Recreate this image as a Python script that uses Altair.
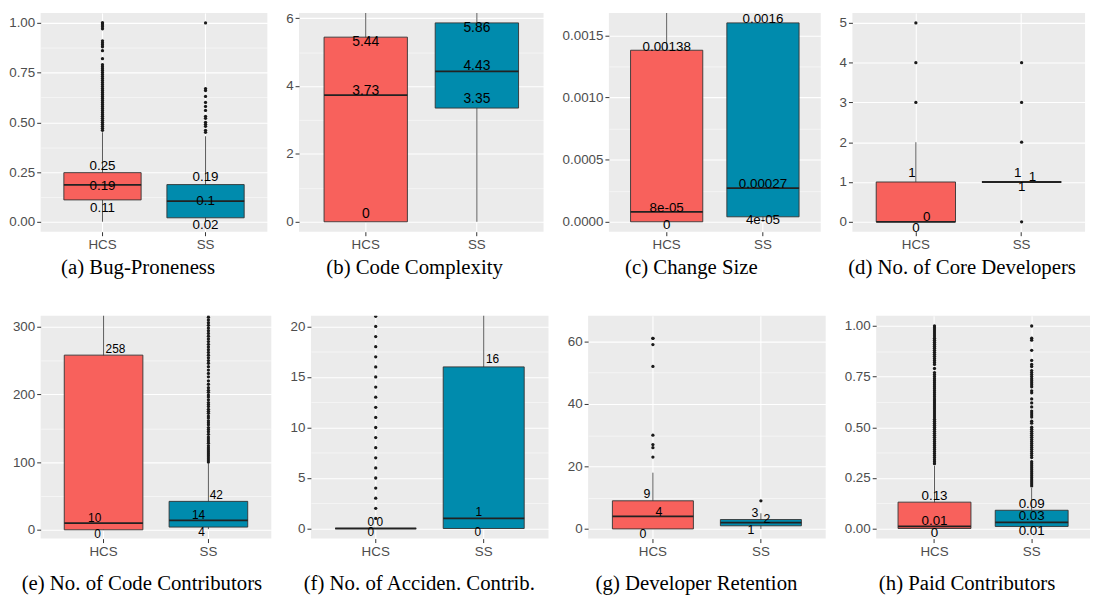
import json
import altair as alt
import pandas as pd

GROUPS = ["HCS", "SS"]
FILL = ["#F8615C", "#008BAD"]

CAPTIONS = [
    "(a) Bug-Proneness", "(b) Code Complexity", "(c) Change Size", "(d) No. of Core Developers",
    "(e) No. of Code Contributors", "(f) No. of Acciden. Contrib.", "(g) Developer Retention",
    "(h) Paid Contributors",
]

# box-plot summaries per panel, as (HCS, SS)
WHISKER_LOW = [(0, 0), (0, 0), (0, 0), (0, 1), (0, 1), (0, 0), (0, 0), (0, 0)]
Q1 = [(0.11, 0.02), (0, 3.35), (0, 0.00004), (0, 1), (0, 4), (0, 0), (0, 1), (0, 0.01)]
MEDIAN = [(0.185, 0.104), (3.73, 4.43), (0.00008, 0.00027), (0, 1), (10, 14), (0, 1), (4, 2), (0.01, 0.03)]
Q3 = [(0.247, 0.187), (5.44, 5.86), (0.00138, 0.0016), (1, 1), (258, 42), (0, 16), (9, 3), (0.13, 0.09)]
WHISKER_HIGH = [(0.45, 0.43), (13.6, 9.6), (0.0034, 0.0016), (2, 1), (640, 98), (0, 40), (18, 5), (0.31, 0.2)]

# value labels per panel: HCS q3, median, q1, SS q3, median, q1
LABELS = [
    ("0.25", "0.19", "0.11", "0.19", "0.1", "0.02"),
    ("5.44", "3.73", "0", "5.86", "4.43", "3.35"),
    ("0.00138", "8e-05", "0", "0.0016", "0.00027", "4e-05"),
    ("1", "0", "0", "1", "1", "1"),
    ("258", "10", "0", "42", "14", "4"),
    ("0", "0", "0", "16", "1", "0"),
    ("9", "4", "0", "3", "2", "1"),
    ("0.13", "0.01", "0", "0.09", "0.03", "0.01"),
]

OUT_HCS = [
    [1.0, 1.0, 0.99, 0.98, 0.97, 0.91, 0.9, 0.89, 0.88, 0.86, 0.82, 0.79, 0.78, 0.77, 0.76, 0.75,
     0.74, 0.73, 0.72, 0.71, 0.7, 0.69, 0.68, 0.67, 0.66, 0.65, 0.64, 0.63, 0.62, 0.61, 0.6, 0.59,
     0.58, 0.57, 0.56, 0.55, 0.54, 0.53, 0.52, 0.51, 0.5, 0.49, 0.48, 0.47, 0.46],
    [],
    [],
    [3, 4, 5],
    [],
    [1, 2, 3, 4, 5, 6, 7, 8, 9, 10, 11, 12, 13, 14, 15, 16, 17, 18, 19, 20, 21],
    [23, 26, 27, 30, 52, 59, 61, 61],
    [0.32, 0.33, 0.34, 0.35, 0.36, 0.37, 0.38, 0.39, 0.4, 0.41, 0.42, 0.43, 0.44, 0.45, 0.46, 0.47,
     0.48, 0.49, 0.5, 0.51, 0.52, 0.53, 0.54, 0.55, 0.56, 0.57, 0.58, 0.59, 0.6, 0.61, 0.62, 0.63,
     0.64, 0.65, 0.66, 0.67, 0.68, 0.69, 0.7, 0.71, 0.72, 0.73, 0.74, 0.75, 0.76, 0.77, 0.79, 0.81,
     0.82, 0.83, 0.84, 0.85, 0.86, 0.87, 0.88, 0.89, 0.9, 0.91, 0.92, 0.93, 0.94, 0.95, 0.96, 0.97,
     0.98, 0.99, 1.0],
]
OUT_SS = [
    [1.0, 0.67, 0.66, 0.63, 0.6, 0.58, 0.56, 0.53, 0.52, 0.5, 0.49, 0.48, 0.46, 0.45],
    [],
    [],
    [0, 2, 3, 4],
    [100, 103, 106, 109, 112, 115, 118, 121, 124, 128, 131, 134, 137, 141, 145, 148, 151, 155, 158,
     161, 165, 168, 172, 175, 178, 182, 185, 188, 192, 196, 199, 203, 206, 210, 215, 220, 226, 231,
     236, 241, 246, 250, 254, 258, 262, 266, 270, 274, 278, 282, 286, 290, 294, 298, 302, 306, 310,
     314, 318],
    [],
    [9],
    [1.0, 0.94, 0.93, 0.88, 0.83, 0.81, 0.8, 0.78, 0.77, 0.76, 0.75, 0.74, 0.73, 0.72, 0.71, 0.7,
     0.68, 0.67, 0.64, 0.62, 0.6, 0.58, 0.57, 0.56, 0.55, 0.53, 0.52, 0.5, 0.49, 0.48, 0.47, 0.46,
     0.45, 0.44, 0.43, 0.42, 0.41, 0.4, 0.39, 0.38, 0.37, 0.36, 0.35, 0.33, 0.32, 0.31, 0.3, 0.29,
     0.28, 0.27, 0.26, 0.25, 0.24, 0.23, 0.22, 0.21],
]

# y axes
Y_DOMAIN = [[-0.05, 1.05], [-0.293, 6.153], [-0.00008, 0.00168], [-0.25, 5.25],
            [-13, 316], [-1, 21.05], [-3.1, 68.2], [-0.05, 1.05]]
Y_MAJOR = [[0, 0.25, 0.5, 0.75, 1.0], [0, 2, 4, 6], [0, 0.0005, 0.001, 0.0015], [0, 1, 2, 3, 4, 5],
           [0, 100, 200, 300], [0, 5, 10, 15, 20], [0, 20, 40, 60], [0, 0.25, 0.5, 0.75, 1.0]]
Y_MINOR = [[0.125, 0.375, 0.625, 0.875], [1, 3, 5], [0.00025, 0.00075, 0.00125],
           [0.5, 1.5, 2.5, 3.5, 4.5], [50, 150, 250], [2.5, 7.5, 12.5, 17.5], [10, 30, 50],
           [0.125, 0.375, 0.625, 0.875]]
Y_FORMAT = [".2f", "d", ".4f", "d", "d", "d", "d", ".2f"]

# layout / style (not data)
WIDTHS = [229, 247, 214, 235, 233, 240, 240, 216]
HEIGHTS = [221, 221, 221, 221, 225, 225, 225, 225]
CAPTION_OFFSET = [6, 6, 6, 6, 15, 15, 15, 15]
LABEL_SIZE = [13.5, 14, 13.5, 13.5, 12, 12, 12.5, 13.5]
LABEL_OFFSETS = [
    [(0, -7), (0, 1), (0, 8), (0, -8), (0, 0), (0, 7)],
    [(0, 4.5), (0, -4.5), (0, -8), (0, 5), (0, -5), (0, -9)],
    [(0, -3.5), (0, -4), (0, 3), (0, -3.5), (0, -4.5), (0, 3.5)],
    [(-4, -9), (11, -5), (0, 6), (-4, -9), (11, -5), (0, 5)],
    [(12, -6), (-9, -5), (-6, 4), (8, -6), (-10, -5), (-7, 5)],
    [(-5, -7), (4, -7), (-5, 4), (9, -8), (-5, -6), (-6, 4)],
    [(-6, -6.5), (6, -4), (-10, 5), (-6, -6.5), (6, -4), (-10, 4)],
    [(0, -6.5), (0, -5.6), (0, 5), (0, -6.5), (0, -6.4), (0, 5)],
]


def make_panel(i):
    xs = alt.Scale(domain=GROUPS, paddingInner=0.25, paddingOuter=0.225)
    ys = alt.Scale(domain=Y_DOMAIN[i], nice=False, zero=False)
    test = "indexof(%s, datum.value) >= 0" % json.dumps(Y_MAJOR[i])
    xax = alt.Axis(title=None, labelAngle=0, bandPosition=0.5, grid=True, gridColor="white",
                   gridWidth=1.1, domain=False, tickColor="#333333", tickSize=4, tickWidth=1,
                   labelColor="#4D4D4D", labelFontSize=13.5, labelFont="Liberation Sans",
                   labelPadding=2)
    yax = alt.Axis(title=None, values=sorted(Y_MAJOR[i] + Y_MINOR[i]), format=Y_FORMAT[i],
                   labelExpr="%s ? datum.label : ''" % test, grid=True, gridColor="white",
                   gridWidth={"condition": {"test": test, "value": 1.1}, "value": 0.5},
                   tickOpacity={"condition": {"test": test, "value": 1}, "value": 0},
                   domain=False, tickColor="#333333", tickSize=4, tickWidth=1,
                   labelColor="#4D4D4D", labelFontSize=13.5, labelFont="Liberation Sans",
                   labelPadding=2)

    def X():
        return alt.X("group:N", scale=xs, axis=xax, title=None)

    def Y(field):
        return alt.Y(field, type="quantitative", scale=ys, axis=yax, title=None)

    box_df = pd.DataFrame({
        "group": GROUPS,
        "lo": list(WHISKER_LOW[i]), "q1": list(Q1[i]), "med": list(MEDIAN[i]),
        "q3": list(Q3[i]), "hi": list(WHISKER_HIGH[i]),
    })
    base = alt.Chart(box_df)
    layers = [
        base.mark_rule(color="#5A5A5A", strokeWidth=1, clip=True).encode(x=X(), y=Y("lo"), y2="hi"),
        base.mark_bar(stroke="#333333", strokeWidth=0.9, opacity=1, clip=True).encode(
            x=X(), y=Y("q1"), y2="q3",
            fill=alt.Fill("group:N", scale=alt.Scale(domain=GROUPS, range=FILL), legend=None)),
        base.mark_tick(color="#222222", thickness=1.8, opacity=1, clip=True).encode(x=X(), y=Y("med")),
    ]
    outs = OUT_HCS[i] + OUT_SS[i]
    if outs:
        out_df = pd.DataFrame({"group": ["HCS"] * len(OUT_HCS[i]) + ["SS"] * len(OUT_SS[i]), "v": outs})
        layers.append(alt.Chart(out_df).mark_circle(size=11, color="#1A1A1A", opacity=1, clip=True)
                      .encode(x=X(), y=Y("v")))
    stats = [Q3[i][0], MEDIAN[i][0], Q1[i][0], Q3[i][1], MEDIAN[i][1], Q1[i][1]]
    for j in range(6):
        df = pd.DataFrame({"group": [GROUPS[j // 3]], "v": [stats[j]], "t": [LABELS[i][j]]})
        dx, dy = LABEL_OFFSETS[i][j]
        layers.append(alt.Chart(df).mark_text(dx=dx, dy=dy, fontSize=LABEL_SIZE[i], font="Liberation Sans",
                                              color="#000000", align="center", baseline="middle")
                      .encode(x=X(), y=Y("v"), text="t:N"))
    return alt.layer(*layers).properties(
        width=WIDTHS[i], height=HEIGHTS[i],
        title=alt.TitleParams(text=CAPTIONS[i], orient="bottom", anchor="middle", frame="bounds",
                              font="Liberation Serif", fontSize=21, fontWeight="normal",
                              color="#000000", offset=CAPTION_OFFSET[i]),
    )


row1 = alt.hconcat(*[make_panel(i) for i in range(4)], spacing=18)
row2 = alt.hconcat(*[make_panel(i) for i in range(4, 8)], spacing=18)
chart = alt.vconcat(row1, row2, spacing=38).properties(
    padding=0, background="white"
).configure_view(fill="#EBEBEB", stroke=None)

chart.save("out.html", embed_options={"renderer": "svg", "actions": False})
